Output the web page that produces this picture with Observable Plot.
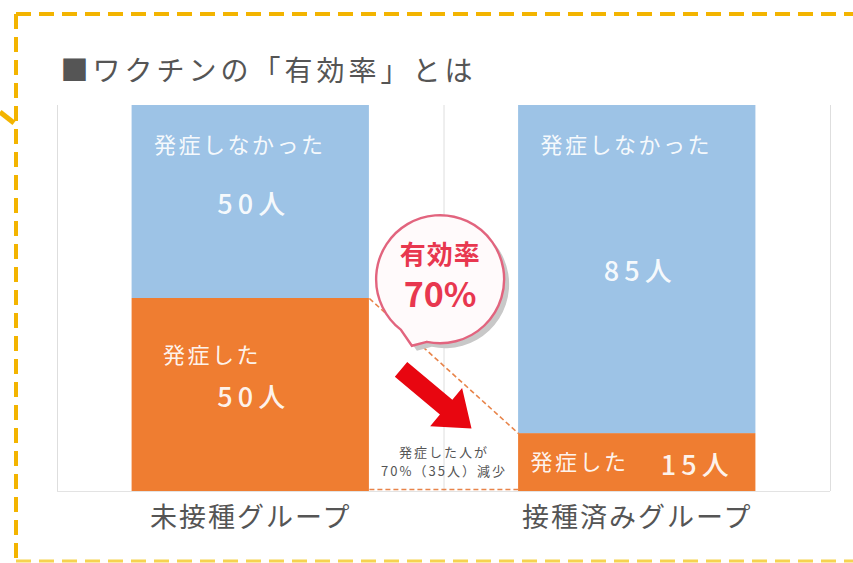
<!DOCTYPE html>
<html><head><meta charset="utf-8">
<script src="https://cdn.jsdelivr.net/npm/d3@7"></script>
<script src="https://cdn.jsdelivr.net/npm/@observablehq/plot@0.6"></script>
<style>
html,body{margin:0;padding:0;background:#fff;}
svg text{font-family:'Noto Sans CJK JP','Noto Sans',sans-serif;}
g[aria-description="title"] text{letter-spacing:4px;}
g[aria-description="head"] text{letter-spacing:2.5px;}
g[aria-description="count"] text{letter-spacing:5px;}
g[aria-label="x-axis tick label"] text{letter-spacing:2px;}
g[aria-description="note"] text{letter-spacing:2px;}
g[aria-description="bubble-text"] text{letter-spacing:1px;}
</style></head><body><div id="chart"></div>
<script>
const title = "■ワクチンの「有効率」とは";
const groups = ["未接種グループ", "接種済みグループ"];
const statuses = ["発症した", "発症しなかった"];
const onset = [50, 15];
const noOnset = [50, 85];
const colors = ["#ef7d31", "#9dc3e6"];

const rate = Math.round((onset[0] - onset[1]) / onset[0] * 100);
const reduced = onset[0] - onset[1];

const rows = groups.flatMap((g, i) => [
  {group: g, i, status: statuses[0], value: onset[i], y1: 0, y2: onset[i]},
  {group: g, i, status: statuses[1], value: noOnset[i], y1: onset[i], y2: onset[i] + noOnset[i]}
]);
const pad = 0.193;
const orangeRows = rows.filter(d => d.status === statuses[0]);
const blueRows = rows.filter(d => d.status === statuses[1]);
const tall = orangeRows.filter(d => d.value >= 30);
const short = orangeRows.filter(d => d.value < 30);

// speech bubble symbol
const bubbleSymbol = {
  draw(ctx, size) {
    const r = Math.sqrt(size / Math.PI);
    const rad = a => a * Math.PI / 180;
    const a1 = rad(102), a2 = rad(128), at = rad(113);
    ctx.moveTo(r * Math.cos(a1), r * Math.sin(a1));
    ctx.lineTo(r * 1.13 * Math.cos(at), r * 1.13 * Math.sin(at));
    ctx.lineTo(r * Math.cos(a2), r * Math.sin(a2));
    ctx.arc(0, 0, r, a2, a1 + 2 * Math.PI, false);
    ctx.closePath();
  }
};
// block arrow symbol pointing right
const arrowSymbol = {
  draw(ctx, size) {
    const r = Math.sqrt(size / Math.PI);
    const sw = 0.21 * r, hw = 0.54 * r, hb = 0.28 * r;
    ctx.moveTo(-r, -sw);
    ctx.lineTo(hb, -sw);
    ctx.lineTo(hb, -hw);
    ctx.lineTo(r, 0);
    ctx.lineTo(hb, hw);
    ctx.lineTo(hb, sw);
    ctx.lineTo(-r, sw);
    ctx.closePath();
  }
};

const bubble = [{x: 0.99, y: 55}];
const arrow = [{x: 0.98, y: 24}];

const chart = Plot.plot({
  width: 853, height: 563,
  marginLeft: 57, marginRight: 23, marginTop: 105, marginBottom: 72,
  x: {domain: [0, 2]},
  y: {domain: [0, 100], axis: null},
  color: {domain: statuses, range: colors},
  style: {background: "white", overflow: "visible"},
  marks: [
    Plot.text([title], {frameAnchor: "top-left", dx: 3, dy: -44, text: d => d, textAnchor: "start", fontSize: 28, fill: "#555", ariaDescription: "title"}),
    Plot.ruleX([0, 1, 2], {y1: 0, y2: 100, stroke: "#dedede"}),
    Plot.ruleY([0], {stroke: "#e3e3e3"}),
    Plot.rect(rows, {x1: d => d.i + pad, x2: d => d.i + 1 - pad, y1: "y1", y2: "y2", fill: "status"}),
    Plot.link([0], {x1: 1 - pad, y1: onset[0], x2: 1 + pad, y2: onset[1], stroke: "#e8844a", strokeWidth: 1.6, strokeDasharray: "5,3"}),
    Plot.link([0], {x1: 1 - pad, y1: 0, x2: 1 + pad, y2: 0, dy: -2, stroke: "#e8844a", strokeWidth: 1.6, strokeDasharray: "5,3"}),
    // bar labels
    Plot.text(blueRows, {x: d => d.i + pad, y: "y2", dx: 22, dy: 40, text: "status", textAnchor: "start", fill: "white", fillOpacity: 0.93, fontSize: 22, ariaDescription: "head"}),
    Plot.text(tall, {x: d => d.i + pad, y: "y2", dx: 31, dy: 57, text: "status", textAnchor: "start", fill: "white", fillOpacity: 0.93, fontSize: 22, ariaDescription: "head"}),
    Plot.text(short, {x: d => d.i + pad, y: d => (d.y1 + d.y2) / 2, dx: 12, text: "status", textAnchor: "start", fill: "white", fillOpacity: 0.93, fontSize: 22, ariaDescription: "head"}),
    Plot.text(blueRows.concat(tall), {x: d => d.i + 0.5, y: d => (d.y1 + d.y2) / 2, dx: 3, dy: 3, text: d => `${d.value}人`, fill: "white", fillOpacity: 0.93, fontSize: 27, fontWeight: 500, ariaDescription: "count"}),
    Plot.text(short, {x: d => d.i + 0.5, y: d => (d.y1 + d.y2) / 2, dx: 60, dy: 4, text: d => `${d.value}人`, fill: "white", fillOpacity: 0.93, fontSize: 27, fontWeight: 500, ariaDescription: "count"}),
    // note (two lines)
    Plot.text([0], {x: 1, y: 0, dy: -39, text: () => "発症した人が", fill: "#555", fontSize: 13, ariaDescription: "note"}),
    Plot.text([0], {x: 1, y: 0, dy: -20, text: () => `${rate}%（${reduced}人）減少`, fill: "#555", fontSize: 13, ariaDescription: "note"}),
    // arrow
    Plot.dot(arrow, {x: "x", y: "y", r: 46, symbol: arrowSymbol, rotate: 40, fill: "#e80610", stroke: "none"}),
    // bubble
    Plot.dot(bubble, {x: "x", y: "y", r: 64, symbol: bubbleSymbol, dx: 5, dy: 5, fill: "#c8c8c8", stroke: "none"}),
    Plot.dot(bubble, {x: "x", y: "y", r: 64, symbol: bubbleSymbol, fill: "#fffafb", stroke: "#e2647e", strokeWidth: 2.4}),
    Plot.text(bubble, {x: "x", y: "y", dy: -24, text: () => "有効率", fill: "#e8374f", fontSize: 26, fontWeight: "bold", ariaDescription: "bubble-text"}),
    Plot.text(bubble, {x: "x", y: "y", dy: 17, text: () => `${rate}%`, fill: "#e8374f", fontSize: 34, fontWeight: "bold"}),
    Plot.axisX([0.5, 1.5], {tickFormat: v => groups[Math.floor(v)], tickSize: 0, tickPadding: 16, fontSize: 27, fill: "#555", label: null})
  ]
});

// decorative dashed frame
const svg = d3.select(chart);
const deco = svg.append("g").attr("fill", "none");
deco.append("line").attr("x1", 16).attr("y1", 14).attr("x2", 853).attr("y2", 14)
  .attr("stroke", "#f3b400").attr("stroke-width", 4).attr("stroke-dasharray", "15 8");
deco.append("line").attr("x1", 16).attr("y1", 14).attr("x2", 16).attr("y2", 563)
  .attr("stroke", "#f3b400").attr("stroke-width", 4).attr("stroke-dasharray", "15 8");
deco.append("line").attr("x1", 16).attr("y1", 561).attr("x2", 853).attr("y2", 561)
  .attr("stroke", "#f6d350").attr("stroke-width", 3).attr("stroke-dasharray", "15 8");
deco.append("line").attr("x1", 0).attr("y1", 112).attr("x2", 14).attr("y2", 123)
  .attr("stroke", "#f3b400").attr("stroke-width", 5);

document.getElementById("chart").appendChild(chart);
</script></body></html>
